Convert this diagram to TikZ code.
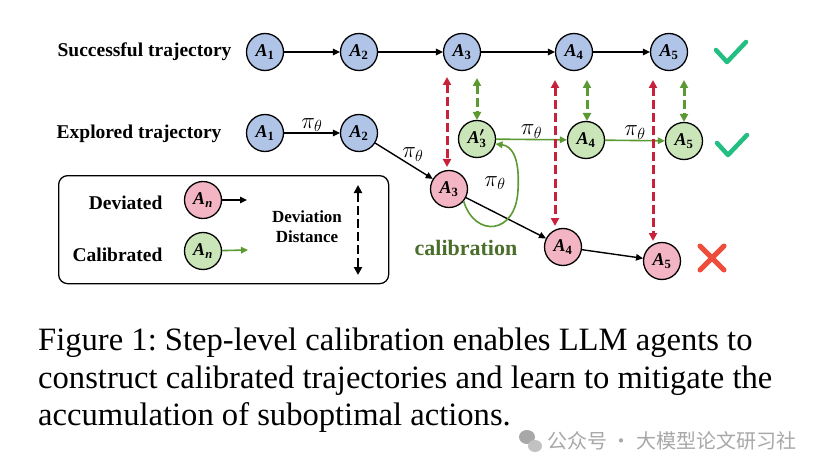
\RequirePackage{fix-cm}
\documentclass[tikz,border=0pt]{standalone}
\usepackage{fontspec}
\setmainfont{Liberation Serif}
\newfontfamily\cjk{Noto Sans CJK SC}
\usetikzlibrary{arrows.meta}
\definecolor{nblue}{HTML}{B0C4E8}
\definecolor{npink}{HTML}{F3B4C3}
\definecolor{ngreen}{HTML}{CAE6B8}
\definecolor{dred}{HTML}{C8213B}
\definecolor{agreen}{HTML}{5B9A32}
\definecolor{calgreen}{HTML}{4C6E2C}
\definecolor{okgreen}{HTML}{22BE82}
\definecolor{xred}{HTML}{EE4D3B}
\definecolor{wm}{HTML}{A8A8A8}
\usepackage{amsmath,bm}
\frenchspacing
\newcommand{\An}[1]{\textbf{\textit{A}}\textsubscript{\textbf{#1}}}
\newcommand{\Ap}[1]{\textbf{\textit{A}}$^{\boldsymbol{\prime}}_{\textbf{#1}}$}
\tikzset{
  st/.style={circle,draw=black,line width=1.3pt,minimum size=37pt,inner sep=0pt,font=\fontsize{18}{18}\selectfont},
  bl/.style={st,fill=nblue},
  pk/.style={st,fill=npink},
  gr/.style={st,fill=ngreen},
  lab/.style={font=\fontsize{19.5}{19.5}\selectfont\bfseries},
  blk/.style={line width=1.4pt,-{Triangle[length=7pt,width=6.5pt]}},
  grn/.style={line width=1.6pt,draw=agreen,-{Triangle[length=7pt,width=6.5pt]},color=agreen},
  dd/.style={line width=3pt,dash pattern=on 9pt off 4pt,{Triangle[length=8pt,width=8pt]}-{Triangle[length=8pt,width=8pt]}},
  pil/.style={font=\fontsize{23}{23}\selectfont},
  captxt/.style={anchor=base west,font=\fontsize{32.6}{33}\selectfont,inner sep=0pt},
}
\begin{document}
\begin{tikzpicture}[x=1pt,y=-1pt]
\useasboundingbox (0,0) rectangle (822,476);
\fill[white] (0,0) rectangle (822,476);
% labels
\node[lab,anchor=east] (ls) at (235,52) {Successful trajectory};
\node[lab,anchor=east] (le) at (225,134) {Explored trajectory};
% successful row
\node[bl] (s1) at (265,52) {\An{1}};
\node[bl] (s2) at (359,52) {\An{2}};
\node[bl] (s3) at (462,52) {\An{3}};
\node[bl] (s4) at (574,52) {\An{4}};
\node[bl] (s5) at (669,52) {\An{5}};
\draw[blk] (s1) -- (s2);
\draw[blk] (s2) -- (s3);
\draw[blk] (s3) -- (s4);
\draw[blk] (s4) -- (s5);
% explored row
\node[bl] (e1) at (265,133) {\An{1}};
\node[bl] (e2) at (359,133) {\An{2}};
\node[gr] (g3) at (477,139) {\Ap{3}};
\node[gr] (g4) at (586,140) {\An{4}};
\node[gr] (g5) at (684,141) {\An{5}};
\node[pk] (r3) at (449,189) {\An{3}};
\node[pk] (r4) at (563,247) {\An{4}};
\node[pk] (r5) at (662,261) {\An{5}};
\draw[blk] (e1) -- node[pil,above=-3pt] (p1) {$\pi_\theta$} (e2);
\draw[blk] (e2) -- node[pil,anchor=south west,pos=0.4,xshift=0pt,yshift=-8pt] (p2) {$\pi_\theta$} (r3);
\draw[blk] (r3) -- (r4);
\draw[blk] (r4) -- (r5);
\draw[grn] (g3) -- node[pil,above=-3pt,black] (p3) {$\pi_\theta$} (g4);
\draw[grn] (g4) -- node[pil,above=-3pt,black] (p4) {$\pi_\theta$} (g5);
% calibration curve
\draw[grn] (r3.-40) .. controls (475,238) and (516,235) .. (518,190) .. controls (520,158) and (512,146) .. (g3.-15);
\node[pil] (p5) at (495,183) {$\pi_\theta$};
\node[font=\fontsize{22}{22}\selectfont\bfseries,text=calgreen] (cal) at (466,248) {calibration};
% deviation arrows
\coordinate (a1) at (447,77); \coordinate (a2) at (447,167);
\coordinate (b1) at (477,78); \coordinate (b2) at (477,120);
\coordinate (c1) at (555,80); \coordinate (c2) at (555,226);
\coordinate (d1) at (587,80); \coordinate (d2) at (587,121);
\coordinate (f1) at (653,80); \coordinate (f2) at (653,241);
\coordinate (h1) at (684,80); \coordinate (h2) at (684,122);
\draw[dd,dred] (a1) -- (a2);
\draw[dd,agreen] (b1) -- (b2);
\draw[dd,dred] (c1) -- (c2);
\draw[dd,agreen] (d1) -- (d2);
\draw[dd,dred] (f1) -- (f2);
\draw[dd,agreen] (h1) -- (h2);
% marks
\draw[okgreen,line width=4.5pt,line cap=round,line join=round] (716,50) -- (727,62) -- (746,42);
\draw[okgreen,line width=4.5pt,line cap=round,line join=round] (717,143) -- (728,155) -- (747,135);
\draw[xred,line width=5pt,line cap=round] (700,246) -- (724,270);
\draw[xred,line width=5pt,line cap=round] (724,246) -- (700,270);
% legend
\node[draw,line width=1.3pt,rounded corners=9pt,minimum width=330pt,minimum height=108pt,anchor=north west] (box) at (58,175) {};
\node[lab,anchor=east] (ld) at (166,203) {Deviated};
\node[lab,anchor=east] (lc) at (166,255) {Calibrated};
\node[pk] (lr) at (203,200) {\textbf{\textit{A}}\textsubscript{\textbf{\textit{n}}}};
\node[gr] (lg) at (203,251) {\textbf{\textit{A}}\textsubscript{\textbf{\textit{n}}}};
\coordinate (lre) at (247,200);
\coordinate (lge) at (248,250);
\draw[blk] (lr) -- (lre);
\draw[grn] (lg) -- (lge);
\node[font=\fontsize{17}{20}\selectfont\bfseries,align=center] (ldd) at (307,227) {Deviation\\Distance};
\coordinate (k1) at (358,185); \coordinate (k2) at (358,275);
\draw[dd,black,line width=2.6pt] (k1) -- (k2);
% caption
\node[captxt] (c1t) at (38,350) {Figure 1: Step-level calibration enables LLM agents to};
\node[captxt] (c2t) at (38,388) {construct calibrated trajectories and learn to mitigate the};
\node[captxt] (c3t) at (38,425) {accumulation of suboptimal actions.};
% watermark
\fill[wm] (527,437) ellipse (8pt and 7pt);
\fill[wm!70] (535,446) ellipse (7pt and 6pt);
\node[anchor=west,text=wm,font=\cjk\fontsize{20}{20}\selectfont,inner sep=0pt] (wmt) at (547,441) {公众号 · 大模型论文研习社};
\end{tikzpicture}
\end{document}
